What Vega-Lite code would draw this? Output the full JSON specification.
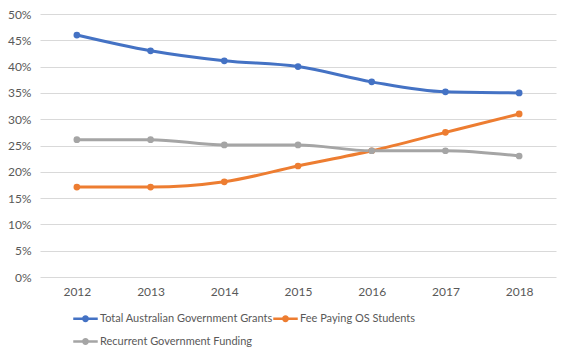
{
  "$schema": "https://vega.github.io/schema/vega-lite/v6.json",
  "width": 570,
  "height": 359,
  "autosize": {"type": "fit", "contains": "padding"},
  "padding": {"left": 5, "top": 8, "right": 14, "bottom": 60},
  "background": "white",
  "config": {
    "view": {"stroke": null},
    "font": "Lato",
    "axis": {"labelFont": "Lato", "labelColor": "#595959", "labelFontSize": 12}
  },
  "data": {
    "values": [
      {"year": "2012", "series": "Total Australian Government Grants", "value": 0.46},
      {"year": "2013", "series": "Total Australian Government Grants", "value": 0.43},
      {"year": "2014", "series": "Total Australian Government Grants", "value": 0.411},
      {"year": "2015", "series": "Total Australian Government Grants", "value": 0.40},
      {"year": "2016", "series": "Total Australian Government Grants", "value": 0.371},
      {"year": "2017", "series": "Total Australian Government Grants", "value": 0.352},
      {"year": "2018", "series": "Total Australian Government Grants", "value": 0.35},
      {"year": "2012", "series": "Fee Paying OS Students", "value": 0.171},
      {"year": "2013", "series": "Fee Paying OS Students", "value": 0.171},
      {"year": "2014", "series": "Fee Paying OS Students", "value": 0.181},
      {"year": "2015", "series": "Fee Paying OS Students", "value": 0.211},
      {"year": "2016", "series": "Fee Paying OS Students", "value": 0.24},
      {"year": "2017", "series": "Fee Paying OS Students", "value": 0.275},
      {"year": "2018", "series": "Fee Paying OS Students", "value": 0.31},
      {"year": "2012", "series": "Recurrent Government Funding", "value": 0.261},
      {"year": "2013", "series": "Recurrent Government Funding", "value": 0.261},
      {"year": "2014", "series": "Recurrent Government Funding", "value": 0.251},
      {"year": "2015", "series": "Recurrent Government Funding", "value": 0.251},
      {"year": "2016", "series": "Recurrent Government Funding", "value": 0.24},
      {"year": "2017", "series": "Recurrent Government Funding", "value": 0.24},
      {"year": "2018", "series": "Recurrent Government Funding", "value": 0.23}
    ]
  },
  "encoding": {
    "x": {
      "field": "year", "type": "ordinal",
      "scale": {"type": "point", "padding": 0.5},
      "axis": {"title": null, "labelAngle": 0, "ticks": false, "domain": false, "grid": false, "labelPadding": 9, "labelFontSize": 12, "minExtent": 22, "maxExtent": 22}
    },
    "y": {
      "field": "value", "type": "quantitative",
      "scale": {"domain": [0, 0.5]},
      "axis": {"title": null, "format": ".0%", "values": [0,0.05,0.1,0.15,0.2,0.25,0.3,0.35,0.4,0.45,0.5], "labelOverlap": false, "ticks": false, "domain": false, "gridColor": "#d9d9d9", "gridWidth": 1, "labelPadding": 9, "minExtent": 35, "maxExtent": 35}
    },
    "color": {
      "field": "series", "type": "nominal",
      "scale": {
        "domain": ["Total Australian Government Grants", "Fee Paying OS Students", "Recurrent Government Funding"],
        "range": ["#4472C4", "#ED7D31", "#A5A5A5"]
      },
      "legend": {
        "title": null, "orient": "none", "legendX": 33, "legendY": 292, "direction": "horizontal", "columns": 2,
        "labelFont": "Lato", "labelFontSize": 11, "labelColor": "#595959", "labelLimit": 400,
        "symbolType": "M-1,-0.11H1V0.11H-1Z M-0.28,0A0.28,0.28,0,1,1,0.28,0A0.28,0.28,0,1,1,-0.28,0Z",
        "symbolSize": 600, "symbolStrokeWidth": 0, "symbolOpacity": 1,
        "columnPadding": 0, "rowPadding": 5, "labelOffset": 2, "padding": 0
      }
    }
  },
  "layer": [
    {"mark": {"type": "line", "strokeWidth": 3, "interpolate": "monotone"}},
    {"mark": {"type": "point", "filled": true, "size": 45, "opacity": 1}}
  ]
}
